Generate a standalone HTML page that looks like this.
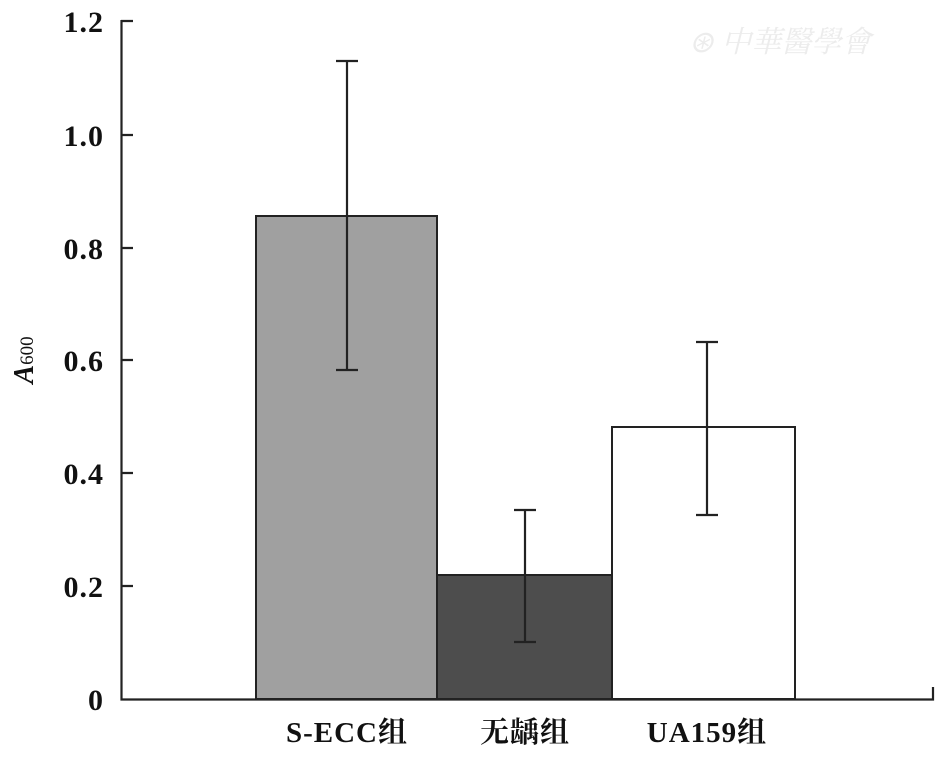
<!DOCTYPE html>
<html><head><meta charset="utf-8"><style>body{margin:0;background:#fff}</style></head>
<body>
<svg width="947" height="752" xmlns="http://www.w3.org/2000/svg" font-family="Liberation Serif, Noto Serif CJK SC, serif" font-weight="bold">
<rect width="947" height="752" fill="#fff"/>
<text x="780" y="52" font-size="30" fill="#ececec" font-style="italic" text-anchor="middle" font-weight="normal">⊛ 中華醫學會</text>
<rect x="256" y="216" width="181" height="483" fill="#a0a0a0" stroke="#222" stroke-width="2"/>
<rect x="437" y="575" width="175" height="124" fill="#4d4d4d" stroke="#222" stroke-width="2"/>
<rect x="612" y="427" width="183" height="272" fill="#fff" stroke="#222" stroke-width="2"/>
<g stroke="#222" stroke-width="2.2" fill="none">
<path d="M347 61V370M336 61H358M336 370H358"/>
<path d="M525 510V642M514 510H536M514 642H536"/>
<path d="M707 342V515M696 342H718M696 515H718"/>
<path d="M121.5 20V699.5H933V687"/>
<path d="M121 21H133M121 135H133M121 248H133M121 360H133M121 473H133M121 586H133"/>
</g>
<g font-size="30" text-anchor="end" fill="#111" letter-spacing="1">
<text x="104" y="32">1.2</text>
<text x="104" y="146">1.0</text>
<text x="104" y="259">0.8</text>
<text x="104" y="371">0.6</text>
<text x="104" y="484">0.4</text>
<text x="104" y="597">0.2</text>
<text x="104" y="710">0</text>
</g>
<g font-size="29" text-anchor="middle" fill="#111" letter-spacing="1">
<text x="347" y="742">S-ECC组</text>
<text x="525" y="742">无龋组</text>
<text x="707" y="742">UA159组</text>
</g>
<text transform="translate(33,360) rotate(-90)" font-size="28" font-style="italic" text-anchor="middle" fill="#111">A<tspan font-size="19" font-style="normal" font-weight="normal">600</tspan></text>
</svg>
</body></html>
